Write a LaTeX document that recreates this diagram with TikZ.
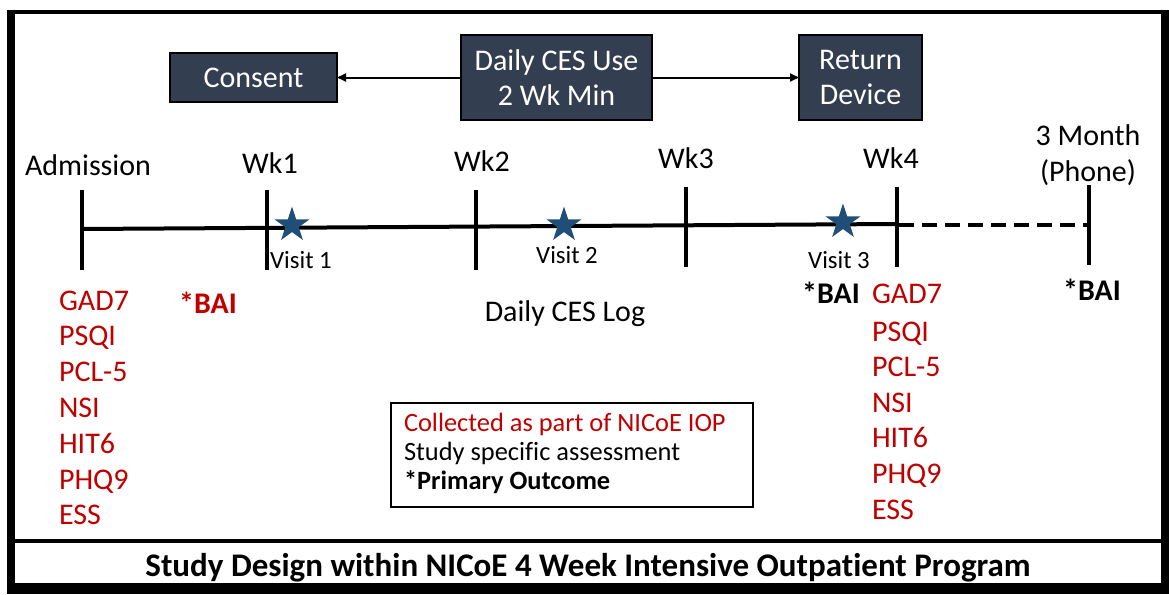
\documentclass[tikz,border=0pt]{standalone}
\usepackage{fontspec}
\setmainfont{Carlito}[Ligatures=NoCommon]
\usetikzlibrary{shapes.geometric,arrows.meta}
\definecolor{boxfill}{HTML}{333F50}
\definecolor{redtxt}{HTML}{C00000}
\definecolor{starblue}{HTML}{1F4E79}
\begin{document}
\begin{tikzpicture}[x=1pt,y=-1pt,
  every node/.style={inner sep=0pt,outer sep=0pt},
  big/.style={font=\fontsize{30}{35}\selectfont},
  bigbold/.style={font=\fontsize{30}{35}\selectfont\bfseries},
  small/.style={font=\fontsize{24.8}{29}\selectfont},
  legtxt/.style={font=\fontsize{26.4}{31}\selectfont,anchor=base west},
  darkbox/.style={draw=black,line width=1.2pt,fill=boxfill,text=white,big,align=center},
  redlbl/.style={big,text=redtxt,anchor=base west},
  tick/.style={line width=4pt},
  tline/.style={line width=4pt},
  arr/.style={line width=2pt,-{Triangle[length=9pt,width=8pt]}},
  starshape/.style={star,star points=5,star point ratio=2.618,minimum size=37pt,fill=starblue,draw=none},
]
\useasboundingbox (0,0) rectangle (1169,594);
% frame
\fill[black] (7,10) rectangle (1169,594);
\fill[white] (15,14) rectangle (1161,583);
\draw[line width=4pt] (15,541) -- (1161,541);

% top boxes
\node[darkbox,minimum width=167pt,minimum height=49pt] (consent) at (253.5,77.5) {Consent};
\node[darkbox,minimum width=191pt,minimum height=85pt] (daily) at (556.5,77.5) {Daily CES Use\\2 Wk Min};
\node[darkbox,minimum width=123pt,minimum height=85pt] (return) at (860.5,77.5) {Return\\Device};
\draw[arr] (daily.west) -- (consent.east);
\draw[arr] (daily.east) -- (return.west);

% timeline coordinates
\coordinate (p0) at (82,229);
\coordinate (p4) at (897,224);
\coordinate (p5) at (1089,225);
\coordinate (t0a) at (82,190);  \coordinate (t0b) at (82,270);
\coordinate (t1a) at (267,190); \coordinate (t1b) at (267,270);
\coordinate (t2a) at (476,190); \coordinate (t2b) at (476,270);
\coordinate (t3a) at (686,187); \coordinate (t3b) at (686,267);
\coordinate (t4a) at (897,187); \coordinate (t4b) at (897,267);
\coordinate (t5a) at (1089,185); \coordinate (t5b) at (1089,265);
\draw[tline] (p0) -- (p4);
\draw[tline,dash pattern=on 15pt off 8pt] ([xshift=2pt]p4 |- p5) -- (p5);
\foreach \i in {0,...,5} {\draw[tick] (t\i a) -- (t\i b);}

% time labels
\node[big,anchor=base] (ladm) at (88,175) {Admission};
\node[big,anchor=base] (lwk1) at (270,173) {Wk1};
\node[big,anchor=base] (lwk2) at (482,171) {Wk2};
\node[big,anchor=base] (lwk3) at (686,168) {Wk3};
\node[big,anchor=base] (lwk4) at (891,168) {Wk4};
\node[big,anchor=base] (l3m) at (1088,145) {3 Month};
\node[big,anchor=base] (lphone) at (1088,181) {(Phone)};

% stars
\node[starshape] (s1) at (292,225) {};
\node[starshape] (s2) at (564,225) {};
\node[starshape] (s3) at (843,222) {};
\node[small,anchor=base] (v1) at (301,268) {Visit 1};
\node[small,anchor=base] (v2) at (567,263) {Visit 2};
\node[small,anchor=base] (v3) at (839,268) {Visit 3};

% left measures
\node[redlbl] (la1) at (59,310) {GAD7};
\node[redlbl] (la2) at (59,345) {PSQI};
\node[redlbl] (la3) at (59,381) {PCL-5};
\node[redlbl] (la4) at (59,417) {NSI};
\node[redlbl] (la5) at (59,453) {HIT6};
\node[redlbl] (la6) at (59,489) {PHQ9};
\node[redlbl] (la7) at (59,524) {ESS};
\node[bigbold,text=redtxt,anchor=base] (bai1) at (208,313) {*BAI};

\node[big,anchor=base] (log) at (565,321) {Daily CES Log};

% right measures
\node[bigbold,anchor=base] (bai2) at (831,303) {*BAI};
\node[redlbl] (lb1) at (872,303) {GAD7};
\node[redlbl] (lb2) at (872,341) {PSQI};
\node[redlbl] (lb3) at (872,376) {PCL-5};
\node[redlbl] (lb4) at (872,412) {NSI};
\node[redlbl] (lb5) at (872,447) {HIT6};
\node[redlbl] (lb6) at (872,483) {PHQ9};
\node[redlbl] (lb7) at (872,519) {ESS};
\node[bigbold,anchor=base] (bai3) at (1092,300) {*BAI};

% legend
\node[draw=black,line width=2pt,minimum width=362pt,minimum height=104pt] (legend) at (572,455) {};
\node[legtxt,text=redtxt] (lg1) at (404,431) {Collected as part of NICoE IOP};
\node[legtxt] (lg2) at (404,460) {Study specific assessment};
\node[legtxt,font=\fontsize{26.4}{31}\selectfont\bfseries] (lg3) at (404,489) {*Primary Outcome};

% title
\node[font=\fontsize{33}{38}\selectfont\bfseries,anchor=base] (title) at (588,576) {Study Design within NICoE 4 Week Intensive Outpatient Program};
\end{tikzpicture}
\end{document}
